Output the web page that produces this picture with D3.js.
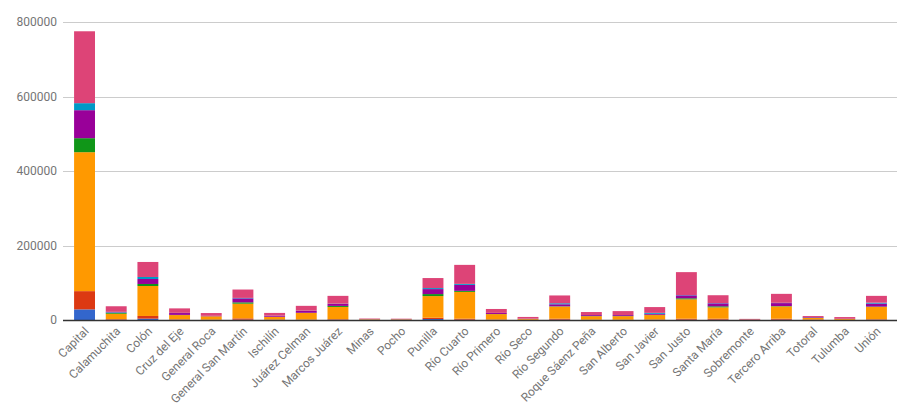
<!DOCTYPE html>
<html><head><meta charset="utf-8">
<script src="https://cdn.jsdelivr.net/npm/d3@7"></script>
<style>body{margin:0;background:#fff}svg{display:block;font-family:Roboto,Arial,sans-serif}</style>
</head><body><svg id="c" width="911" height="417"></svg>
<script>
const categories = ["Capital","Calamuchita","Colón","Cruz del Eje","General Roca","General San Martín","Ischilín","Juárez Celman","Marcos Juárez","Minas","Pocho","Punilla","Río Cuarto","Río Primero","Río Seco","Río Segundo","Roque Sáenz Peña","San Alberto","San Javier","San Justo","Santa María","Sobremonte","Tercero Arriba","Totoral","Tulumba","Unión"];
const seriesNames = ["Serie 1","Serie 2","Serie 3","Serie 4","Serie 5","Serie 6","Serie 7"];
const colors = ["#3366cc","#dc3912","#ff9900","#109618","#990099","#0099c6","#dd4477"];
const s1 = [28500,800,3600,500,300,800,300,400,600,200,200,2700,800,400,200,800,300,300,400,800,800,100,800,200,100,600];
const s2 = [49000,1500,7200,1200,600,3600,1000,900,1500,400,300,3500,2700,900,400,2700,500,500,800,2700,2700,200,2700,1200,300,1300];
const s3 = [373000,14500,80500,11500,9000,39400,7000,17500,33000,1300,1200,58000,72000,14500,2400,32500,9500,9500,12000,52000,30500,600,33000,4300,2300,33000];
const s4 = [37600,2300,5400,500,200,3600,400,600,2700,100,100,5400,2700,400,100,800,300,300,800,2700,2700,50,900,300,100,1100];
const s5 = [75200,1400,13400,5000,900,10700,2500,5200,5400,300,300,13400,16100,2600,400,5400,2500,2500,2600,8000,8000,200,8000,1700,400,8000];
const s6 = [18800,1400,5400,500,200,1200,300,400,600,100,100,2700,2700,300,100,2700,300,300,2600,800,800,50,800,300,100,2600];
const s7 = [193000,15000,40300,12000,7500,22500,7500,13000,21000,1500,1300,26900,51000,10500,4600,21000,8000,10500,15500,61500,21000,1800,24000,2600,4600,18200];
const seriesValues = [s1,s2,s3,s4,s5,s6,s7];
const yTicks = [0,200000,400000,600000,800000];

const svg = d3.select("#c");
const gridX0 = 63, gridX1 = 897;
const x = d3.scaleBand().domain(categories).range([68.7, 892.3]).paddingInner(0.34).paddingOuter(0.17);
const y = d3.scaleLinear().domain([0,800000]).range([320,22]);

// gridlines
svg.append("g").selectAll("line").data(yTicks.filter(d=>d>0)).join("line")
  .attr("x1",gridX0).attr("x2",gridX1)
  .attr("y1",d=>Math.round(y(d))+0.5).attr("y2",d=>Math.round(y(d))+0.5)
  .attr("stroke","#cccccc").attr("stroke-width",1);

// y axis labels
const yAxis = d3.axisLeft(y).tickValues(yTicks).tickFormat(d3.format("d")).tickSize(0).tickPadding(0);
const ga = svg.append("g").attr("transform","translate(57,0)").call(yAxis);
ga.select(".domain").remove();
ga.selectAll("text").attr("fill","#757575").attr("font-size",12).attr("font-family","Roboto,Arial,sans-serif");

// stacked data
const rows = categories.map((c,i)=>{const r={cat:c}; seriesNames.forEach((s,j)=>r[s]=seriesValues[j][i]); return r;});
const stack = d3.stack().keys(seriesNames)(rows);
const gb = svg.append("g");
stack.forEach((layer,j)=>{
  gb.append("g").attr("fill",colors[j]).selectAll("rect").data(layer).join("rect")
    .attr("x",d=>x(d.data.cat)).attr("width",x.bandwidth())
    .attr("y",d=>y(d[1])).attr("height",d=>Math.max(0,y(d[0])-y(d[1])));
});

// baseline
svg.append("line").attr("x1",gridX0).attr("x2",gridX1).attr("y1",320.5).attr("y2",320.5)
  .attr("stroke","#333333").attr("stroke-width",1.5);

// x labels
const xAxis = d3.axisBottom(x).tickSize(0).tickPadding(0);
const gx = svg.append("g").attr("transform","translate(0,320)").call(xAxis);
gx.select(".domain").remove();
gx.selectAll("text").attr("fill","#757575").attr("font-size",12).attr("font-family","Roboto,Arial,sans-serif")
  .attr("text-anchor","end").attr("dy",null).attr("y",0).attr("x",0)
  .attr("transform","translate(5,12) rotate(-45)");
</script></body></html>
